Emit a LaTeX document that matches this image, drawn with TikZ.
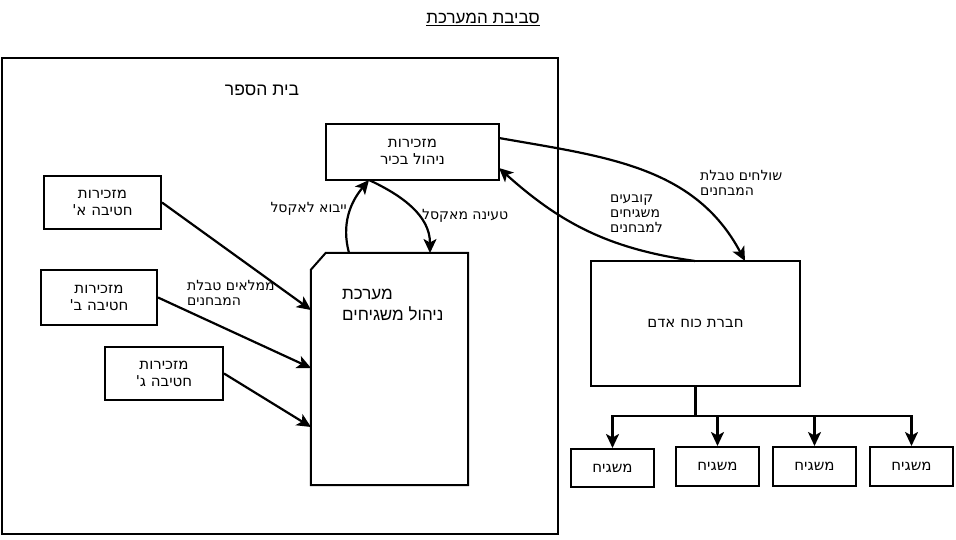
\documentclass[tikz,border=0pt]{standalone}
\usepackage{fontspec}
\usetikzlibrary{arrows.meta,calc}
\newfontfamily\hebA[Script=Hebrew]{DejaVu Sans}
\newfontfamily\hebB[Script=Hebrew]{Liberation Sans}
\TeXXeTstate=1
\newcommand{\rl}[1]{\beginR #1\endR}
\begin{document}
\begin{tikzpicture}[x=1pt,y=-1pt,
  box/.style={draw, line width=2pt, inner sep=0pt, align=center, font=\hebA\fontsize{15}{17}\selectfont},
  lbl/.style={inner sep=0pt, align=left, font=\hebA\fontsize{14}{15}\selectfont},
  arr/.style={line width=2.2pt, -{Stealth[length=14pt,width=13pt,inset=3.5pt]}},
]
\useasboundingbox (0,0) rectangle (956,540);

% title
\node[font=\hebB\fontsize{17}{20}\selectfont, inner sep=0] (title) at (483,19) {\underline{\rl{סביבת המערכת}}};

% school frame
\node[draw, line width=2pt, minimum width=556pt, minimum height=476pt, inner sep=0] (school) at (280,296) {};
\node[font=\hebB\fontsize{17.5}{20}\selectfont, inner sep=0] (schooltxt) at (262,90) {\rl{בית הספר}};

% boxes
\node[box, minimum width=173pt, minimum height=56pt] (mgmt) at (412.5,152) {\rl{מזכירות}\\\rl{ניהול בכיר}};
\node[box, minimum width=117pt, minimum height=53pt] (a) at (102.5,202.5) {\rl{מזכירות}\\\rl{חטיבה א'}};
\node[box, minimum width=116pt, minimum height=55pt] (b) at (99,297.5) {\rl{מזכירות}\\\rl{חטיבה ב'}};
\node[box, minimum width=118pt, minimum height=53pt] (c) at (164,373.5) {\rl{מזכירות}\\\rl{חטיבה ג'}};

% system (card shape)
\node[minimum width=157pt, minimum height=232pt, inner sep=0] (sys) at (389.5,369) {};
\draw[line width=2pt, line join=miter] (sys.south west) -- ($(sys.north west)+(0,17)$) -- ($(sys.north west)+(15,0)$) -- (sys.north east) -- (sys.south east) -- cycle;
\node[anchor=north west, align=left, inner sep=0, font=\hebB\fontsize{17}{21}\selectfont] (systxt) at (342,289) {\rl{מערכת}\\\rl{ניהול משגיחים}};

% HR company
\node[box, minimum width=209pt, minimum height=125pt] (hr) at (695.5,323.5) {\rl{חברת כוח אדם}};

% supervisors
\node[box, minimum width=83pt, minimum height=38pt] (g1) at (612.5,468) {\rl{משגיח}};
\node[box, minimum width=83pt, minimum height=39pt] (g2) at (717.5,466.5) {\rl{משגיח}};
\node[box, minimum width=83pt, minimum height=39pt] (g3) at (814.5,466.5) {\rl{משגיח}};
\node[box, minimum width=83pt, minimum height=39pt] (g4) at (911.5,466.5) {\rl{משגיח}};

% connection points
\coordinate (in1) at (311,310);
\coordinate (in2) at (311,368);
\coordinate (in3) at (311,427);
\coordinate (s1) at (349,253);
\coordinate (s2) at (430,253);
\coordinate (m1) at (369,180);
\coordinate (mr1) at (499,138);
\coordinate (mr2) at (499,168);
\coordinate (h1) at (745,261);
\coordinate (h2) at (695,261);
\coordinate (j) at (695.5,416);

% arrows from divisions
\draw[arr] (a.east) -- (in1);
\draw[arr] (b.east) -- (in2);
\draw[arr] (c.east) -- (in3);

% export / import
\draw[arr] (s1) to[out=105,in=-130] (m1);
\draw[arr] (m1) to[out=-25,in=90] (s2);

% mgmt <-> HR
\draw[arr] (mr1) to[out=-10,in=118] (h1);
\draw[arr] (h2) to[out=172,in=-42] (mr2);

% tree
\draw[line width=2.2pt] (hr.south) -- (j);
\draw[arr] (j) -| (g1.north);
\draw[arr] (j) -| (g2.north);
\draw[arr] (j) -| (g3.north);
\draw[arr] (j) -| (g4.north);

% labels
\node[lbl, anchor=east] (l1) at (347,209) {\rl{ייבוא לאקסל}};
\node[lbl, anchor=west] (l2) at (422,216) {\rl{טעינה מאקסל}};
\node[lbl, anchor=north west] (l3) at (187,280) {\rl{ממלאים טבלת}\\\rl{המבחנים}};
\node[lbl, anchor=north west] (l4) at (700,170) {\rl{שולחים טבלת}\\\rl{המבחנים}};
\node[lbl, anchor=north west] (l5) at (610,195) {\rl{קובעים}\\\rl{משגיחים}\\\rl{למבחנים}};
\end{tikzpicture}
\end{document}
